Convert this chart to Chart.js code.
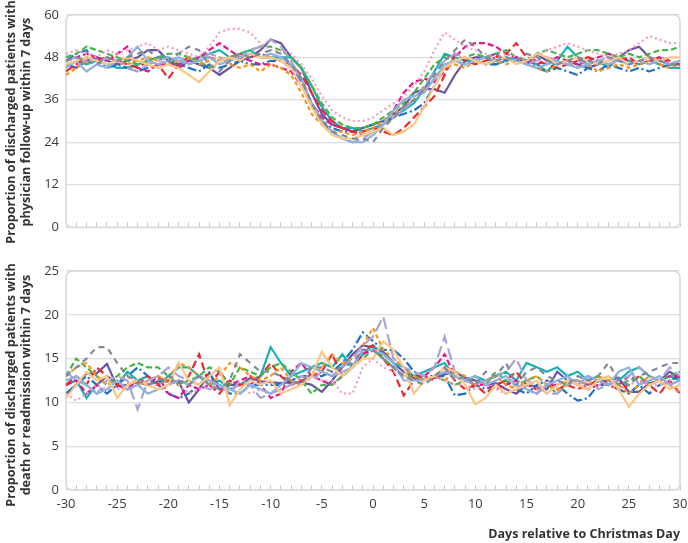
<!DOCTYPE html>
<html>
<head>
<meta charset="utf-8">
<script src="https://cdn.jsdelivr.net/npm/chart.js@4.4.1/dist/chart.umd.min.js"></script>
<style>
  html, body { margin: 0; padding: 0; background: #fff; }
  body { width: 688px; height: 543px; position: relative; overflow: hidden; font-family: "Open Sans", sans-serif; }
  .panel { position: absolute; left: 0; width: 688px; }
  #topPanel { top: 0; height: 242px; }
  #bottomPanel { top: 242px; height: 301px; }
  .ytitle { position: absolute; width: 260px; height: 30px; text-align: center; font-weight: 700;
            font-size: 12.6px; line-height: 15px; color: #333; transform: rotate(-90deg); white-space: nowrap; }
</style>
</head>
<body>
<div class="panel" id="topPanel"><canvas id="topChart"></canvas></div>
<div class="panel" id="bottomPanel"><canvas id="bottomChart"></canvas></div>
<div class="ytitle" style="left:-112px;top:107px;">Proportion of discharged patients with<br>physician follow-up within 7 days</div>
<div class="ytitle" style="left:-112px;top:370px;">Proportion of discharged patients with<br>death or readmission within 7 days</div>
<script>
  // days relative to Christmas Day
  const days = [-30, -29, -28, -27, -26, -25, -24, -23, -22, -21,
    -20, -19, -18, -17, -16, -15, -14, -13, -12, -11,
    -10, -9, -8, -7, -6, -5, -4, -3, -2, -1,
    0, 1, 2, 3, 4, 5, 6, 7, 8, 9,
    10, 11, 12, 13, 14, 15, 16, 17, 18, 19,
    20, 21, 22, 23, 24, 25, 26, 27, 28, 29, 30];

  const topTicks = [0, 12, 24, 36, 48, 60];
  const bottomTicks = [0, 5, 10, 15, 20, 25];
  const xLabelTicks = [-30, -25, -20, -15, -10, -5, 0, 5, 10, 15, 20, 25, 30];

  // physician follow-up within 7 days (%)
  const fuBlue = [47, 49, 50, 47, 45, 46, 45, 44, 45, 46,
    47, 46, 45, 44, 46, 45, 46, 47, 46, 46,
    47, 47, 45, 41, 35, 30, 28, 27, 27, 28,
    29, 30, 31, 32, 33, 35, 40, 45, 47, 46,
    47, 46, 46, 47, 48, 47, 45, 44, 45, 44,
    43, 45, 44, 46, 45, 44, 45, 44, 45, 46, 46];
  const fuRed = [44, 46, 48, 47, 48, 47, 46, 45, 47, 46,
    42, 46, 48, 47, 48, 47, 48, 49, 48, 49,
    48, 47, 46, 43, 38, 33, 30, 28, 27, 27,
    28, 27, 26, 28, 31, 34, 37, 43, 49, 47,
    46, 47, 48, 49, 52, 48, 47, 46, 45, 46,
    47, 48, 47, 46, 47, 48, 46, 47, 48, 47, 46];
  const fuGreen = [48, 49, 51, 50, 49, 48, 47, 46, 47, 48,
    49, 49, 48, 47, 45, 47, 48, 49, 50, 51,
    51, 50, 48, 45, 40, 35, 31, 29, 28, 28,
    29, 31, 33, 35, 38, 42, 46, 48, 47, 48,
    49, 48, 49, 50, 48, 47, 49, 50, 49, 48,
    49, 50, 50, 49, 48, 49, 48, 49, 50, 50, 51];
  const fuOrange = [43, 45, 47, 46, 48, 47, 46, 47, 48, 47,
    46, 47, 48, 46, 47, 48, 46, 45, 46, 44,
    46, 45, 43, 38, 32, 29, 27, 27, 26, 27,
    28, 30, 32, 34, 36, 39, 42, 45, 46, 45,
    47, 46, 47, 46, 47, 46, 45, 44, 46, 47,
    45, 46, 44, 45, 46, 45, 46, 47, 46, 45, 46];
  const fuMagenta = [47, 48, 49, 48, 47, 49, 51, 45, 44, 46,
    46, 45, 47, 48, 50, 52, 50, 48, 47, 46,
    46, 45, 44, 40, 35, 31, 29, 28, 27, 26,
    27, 29, 33, 38, 41, 42, 41, 44, 48, 51,
    52, 52, 51, 49, 48, 47, 46, 47, 48, 47,
    46, 47, 48, 49, 48, 47, 46, 47, 48, 46, 47];
  const fuTeal = [46, 47, 46, 47, 46, 45, 45, 46, 47, 48,
    48, 46, 47, 48, 49, 50, 48, 49, 50, 48,
    48, 48, 48, 45, 40, 34, 30, 28, 28, 27,
    28, 29, 31, 33, 35, 39, 44, 49, 48, 47,
    47, 48, 46, 47, 48, 47, 46, 44, 47, 51,
    48, 46, 47, 45, 48, 47, 46, 47, 46, 45, 45];
  const fuPurple = [46, 45, 47, 48, 47, 46, 47, 48, 50, 50,
    47, 45, 47, 46, 45, 43, 45, 47, 48, 50,
    53, 52, 48, 45, 38, 32, 29, 28, 27, 28,
    29, 30, 32, 34, 38, 39, 39, 38, 43, 47,
    48, 48, 49, 47, 48, 46, 49, 47, 46, 47,
    46, 45, 46, 47, 48, 50, 51, 48, 47, 46, 46];
  const fuLavender = [47, 48, 47, 46, 48, 47, 45, 44, 46, 47,
    48, 47, 46, 47, 49, 48, 47, 48, 50, 51,
    53, 51, 47, 42, 35, 30, 27, 25, 24, 25,
    27, 29, 31, 33, 36, 40, 44, 47, 49, 48,
    47, 48, 47, 48, 47, 46, 47, 48, 47, 46,
    47, 46, 47, 48, 47, 46, 47, 48, 47, 46, 47];
  const fuSky = [45, 47, 44, 46, 45, 47, 48, 51, 47, 46,
    47, 48, 46, 47, 48, 46, 47, 48, 49, 48,
    49, 48, 46, 42, 35, 30, 27, 25, 24, 24,
    26, 29, 33, 36, 37, 38, 42, 46, 47, 46,
    47, 48, 47, 48, 47, 46, 45, 46, 47, 46,
    45, 46, 47, 46, 47, 46, 47, 46, 47, 46, 47];
  const fuPeach = [46, 47, 48, 47, 46, 47, 48, 47, 46, 45,
    46, 45, 43, 41, 44, 47, 48, 47, 49, 48,
    48, 47, 45, 40, 34, 29, 26, 25, 25, 26,
    27, 28, 26, 27, 29, 34, 40, 45, 47, 48,
    47, 46, 47, 48, 46, 47, 49, 48, 46, 47,
    48, 47, 46, 47, 48, 46, 47, 48, 47, 48, 48];
  const fuPink = [49, 50, 49, 48, 50, 49, 50, 51, 52, 50,
    51, 50, 49, 48, 51, 55, 56, 56, 55, 52,
    50, 50, 49, 46, 42, 37, 33, 31, 30, 30,
    31, 33, 35, 37, 40, 44, 50, 55, 53, 51,
    50, 49, 48, 49, 48, 47, 48, 50, 51, 52,
    51, 50, 49, 48, 49, 50, 52, 54, 53, 52, 52];
  const fuGray = [47, 48, 47, 46, 48, 47, 48, 49, 50, 48,
    47, 49, 51, 50, 46, 44, 47, 49, 48, 49,
    50, 49, 46, 42, 35, 30, 27, 26, 25, 25,
    24, 28, 31, 34, 36, 39, 43, 47, 50, 53,
    51, 48, 47, 48, 47, 49, 48, 47, 46, 47,
    48, 47, 46, 48, 47, 46, 47, 48, 47, 46, 46];

  // death or readmission within 7 days (%)
  const drBlue = [11, 12, 13, 12, 11, 12, 13, 14, 13, 12,
    11, 10.5, 11, 12, 13, 12, 11, 11, 12, 12,
    12, 12, 12.5, 13, 13, 13, 13.5, 14.5, 16, 18,
    17, 16, 16, 15, 13.5, 13, 13, 13, 10.8, 11,
    12, 11.5, 12, 12.5, 11.5, 11, 12, 12.5, 12, 11,
    10.2, 10.5, 12, 12, 11.5, 11, 12, 11, 12, 12.5, 13];
  const drRed = [12, 13, 12, 14, 13, 12, 11.5, 12, 13, 12,
    12.5, 12, 13, 15.5, 12, 11, 12.5, 12, 12, 13,
    14.5, 13, 12, 12.5, 13, 13.5, 15.5, 13, 14, 16,
    16.5, 15, 13.5, 10.8, 12.5, 13, 12.5, 14, 12.5, 11.5,
    12, 11, 12, 12.5, 13.5, 12, 11.5, 12, 11.5, 12,
    11.5, 12, 12.5, 12, 11.5, 12, 13, 12, 11, 12.5, 11];
  const drGreen = [13, 15, 14, 13, 12, 13, 14, 14.5, 14, 14,
    13, 12, 12.5, 13, 14, 13.5, 12, 14, 13.5, 13,
    14, 14.5, 13.5, 12.5, 11, 12, 12, 13, 14, 15,
    16, 15, 14, 13, 13, 12.5, 13, 12.5, 12, 12.5,
    13, 12, 13.5, 12.5, 12, 12.5, 13, 12, 11, 12.5,
    12, 13, 12.5, 13, 12, 12.5, 13, 12, 12.5, 13, 13.5];
  const drOrange = [13, 14, 14.5, 13, 12, 12.5, 13, 12, 12.5, 13,
    12.5, 14.5, 14, 13, 12, 13, 14.5, 14, 13, 12.5,
    13, 14, 12.5, 12, 13, 14, 15.5, 14.5, 15, 16.5,
    18.5, 16, 15, 14, 13, 12.5, 13, 12.5, 13.5, 13,
    12, 12.5, 13, 12, 11.5, 12.5, 13, 12, 11.5, 12,
    12.5, 12, 13, 12.5, 12, 11, 12, 13, 12.5, 12, 11];
  const drMagenta = [12, 12.5, 11, 12, 13, 12, 11.5, 12.5, 12, 13,
    11, 10.5, 12, 11.5, 12, 13.5, 12, 12.5, 13, 12,
    10.5, 11, 13.5, 14.5, 13, 12.5, 12, 13, 14, 15.5,
    16, 15, 14, 13, 13, 13, 14, 15.5, 13, 12.5,
    12, 12, 11.5, 12, 12.5, 11.5, 11, 12, 12, 12.5,
    12, 11.5, 12, 12.5, 12, 13, 12.5, 12, 12.5, 13, 13];
  const drTeal = [12, 12.5, 10.5, 12, 13, 12, 13.5, 12.5, 13, 12,
    13, 14, 14, 13, 12, 12.5, 11.5, 12, 12.5, 13,
    16.3, 14.5, 13, 13.5, 14, 14.5, 14, 15.5, 14, 15.5,
    16.5, 15.5, 14.5, 14, 13, 13.5, 14, 14.5, 13, 12.5,
    13, 12.5, 13, 13.5, 12.5, 14.5, 14, 13.5, 14, 13,
    13.5, 12.5, 13, 12, 12.5, 13.5, 14, 13, 12.5, 13, 12.5];
  const drPurple = [11, 12, 13.3, 13.3, 14.4, 11.8, 12, 12.3, 12, 12.4,
    12.4, 12.4, 10, 11.5, 13.4, 11.5, 12, 12, 12.8, 12.4,
    12.3, 12.2, 12.3, 12.3, 12, 11.2, 12.5, 14, 15.5, 16.5,
    16.3, 15.8, 14.5, 13.5, 12.8, 12.6, 12.8, 13.2, 13.5, 12.8,
    12.5, 12, 12.2, 11.5, 11, 12, 11.8, 11.5, 13.5, 12.5,
    12.5, 12, 12.4, 12.5, 12.8, 11.2, 11.2, 12.2, 12.5, 13.5, 12.8];
  const drLavender = [13.5, 12.5, 12, 11, 12.5, 13, 12.5, 9.2, 12.5, 13,
    14, 13, 12.5, 12, 11.5, 12, 11, 12.5, 12, 10.5,
    11, 11.5, 12, 13, 12.5, 13.5, 13, 14, 15, 16.5,
    17.5, 19.8, 15, 14, 13.5, 13, 14, 17.5, 13.5, 12.5,
    12, 12.5, 13, 13.5, 15, 12.5, 12, 11, 11, 12,
    12.5, 13, 11.5, 12, 12.5, 13, 14, 13, 12.5, 14, 13];
  const drSky = [12.5, 13, 12, 11, 11.5, 12.5, 11.5, 12, 11, 11.5,
    12, 12.5, 12, 13, 12.5, 12, 11.5, 11, 12, 11.5,
    11, 12, 13, 14.5, 14, 13.5, 13, 13.5, 14, 16,
    16, 15.5, 14.5, 12.5, 12.5, 12.5, 13, 13.5, 13, 12.5,
    13, 12, 12.5, 13, 12, 11.5, 11, 12, 12.5, 13,
    12, 13, 12.5, 12, 13.5, 14, 12, 12.5, 13, 12, 12.5];
  const drPeach = [10.5, 12, 13.5, 12.5, 13, 10.5, 12, 12.5, 12, 11.5,
    12, 14.5, 12.5, 12, 13, 14, 9.7, 11.5, 12.5, 12,
    12.5, 11, 11.5, 12, 13, 15.8, 14, 13, 14, 15,
    15, 17, 16, 14, 11, 12.5, 13, 14, 13.5, 12,
    9.8, 10.5, 12, 11, 11.5, 12, 12.5, 11, 12, 12.5,
    12, 11.5, 12.5, 13, 11.5, 9.5, 11, 12, 12.5, 11.5, 12];
  const drPink = [11, 10.2, 11, 12, 11.5, 11.5, 12, 12.5, 12, 12,
    12.5, 12, 11, 11.5, 12, 12, 11.5, 12, 11, 11.5,
    11, 11.5, 12, 13, 13, 12.5, 12.5, 11, 11, 14,
    15, 14, 13.5, 13, 12.5, 12.5, 13, 12.5, 12, 12,
    11.5, 12, 11.5, 11, 12, 12, 11.5, 12.5, 12, 12.5,
    12, 12.5, 12, 12, 11.5, 12, 12.5, 12, 12, 12.5, 12];
  const drGray = [13, 14, 15, 16.3, 16.3, 14.5, 13, 12.5, 12, 12.5,
    13, 12.5, 12, 13, 12, 11.5, 12.5, 15.5, 14.5, 13.5,
    13.5, 13, 12.5, 12, 14, 14, 13.5, 14, 14.5, 16,
    16, 15, 14, 13, 12.5, 12, 13, 14, 12.5, 13,
    12, 13.5, 13, 14.5, 12, 13.5, 14, 13, 12.5, 12,
    13, 12.5, 13, 14.5, 12.5, 12, 13, 13.5, 14, 14.5, 14.5];

  const followUp = [fuGray, fuPeach, fuSky, fuLavender, fuPink, fuOrange, fuGreen, fuRed, fuMagenta, fuBlue, fuTeal, fuPurple];
  const deathReadmit = [drGray, drPeach, drSky, drLavender, drPink, drOrange, drGreen, drRed, drMagenta, drBlue, drTeal, drPurple];

  const styles = [
    { color: "#7f8a96", dash: [6, 5] },
    { color: "#fdc685", dash: [] },
    { color: "#8db2e2", dash: [] },
    { color: "#aaa3d6", dash: [12, 5] },
    { color: "#f59ac3", dash: [2, 3] },
    { color: "#f7941e", dash: [4, 3] },
    { color: "#48b54a", dash: [6, 3] },
    { color: "#ea2a2e", dash: [8, 4] },
    { color: "#e4148c", dash: [6, 3] },
    { color: "#1f72c2", dash: [9, 3, 2, 3] },
    { color: "#14b2b4", dash: [] },
    { color: "#6a51a3", dash: [] },
  ];

  Chart.defaults.font.family = "'Open Sans', sans-serif";
  Chart.defaults.color = "#3a3a3a";

  const frame = {
    id: "frame",
    beforeDatasetsDraw(chart) {
      const { ctx, chartArea: a } = chart;
      ctx.save();
      ctx.strokeStyle = "#d6d6dc";
      ctx.lineWidth = 1.5;
      ctx.beginPath();
      ctx.roundRect(a.left, a.top, a.right - a.left, a.bottom - a.top, 6);
      ctx.stroke();
      ctx.restore();
    },
  };

  function makeChart(id, series, yTicks, showLabels, padTop, xHeight) {
    return new Chart(document.getElementById(id), {
      type: "line",
      data: {
        labels: days,
        datasets: series.map((vals, i) => ({
          data: vals,
          borderColor: styles[i].color,
          borderDash: styles[i].dash,
          borderWidth: 2.2,
          pointRadius: 0,
          tension: 0,
          fill: false,
        })),
      },
      options: {
        responsive: true,
        maintainAspectRatio: false,
        animation: false,
        layout: { padding: { top: padTop, right: 8, left: 0, bottom: 0 } },
        plugins: { legend: { display: false }, tooltip: { enabled: false } },
        scales: {
          x: {
            type: "linear",
            min: -30,
            max: 30,
            border: { display: false },
            // negative tick length: tick marks point up into the plot, as in the original
            grid: { drawOnChartArea: false, drawTicks: true, tickLength: -5, color: "#c8c8cf" },
            ticks: {
              stepSize: 1,
              autoSkip: false,
              maxRotation: 0,
              padding: 11,
              font: { size: 13 },
              color: "#3a3a3a",
              callback: (v) => (showLabels && xLabelTicks.includes(v) ? String(v) : ""),
            },
            title: {
              display: showLabels,
              text: "Days relative to Christmas Day",
              align: "end",
              font: { size: 12.5, weight: "bold" },
              color: "#333",
              padding: { top: 0, bottom: 1 },
            },
            afterFit: (s) => {
              s.height = xHeight;
              s.paddingLeft = 0;
              s.paddingRight = 0;
            },
          },
          y: {
            min: yTicks[0],
            max: yTicks[yTicks.length - 1],
            border: { display: false },
            grid: { drawTicks: false, color: "#dcdce2", lineWidth: 1.2 },
            ticks: { padding: 7, font: { size: 13 }, color: "#3a3a3a" },
            afterBuildTicks: (s) => { s.ticks = yTicks.map((v) => ({ value: v })); },
            afterFit: (s) => { s.width = 66; },
          },
        },
      },
      plugins: [frame],
    });
  }

  makeChart("topChart", followUp, topTicks, false, 7, 14);
  makeChart("bottomChart", deathReadmit, bottomTicks, true, 29, 53);
</script>
</body>
</html>
